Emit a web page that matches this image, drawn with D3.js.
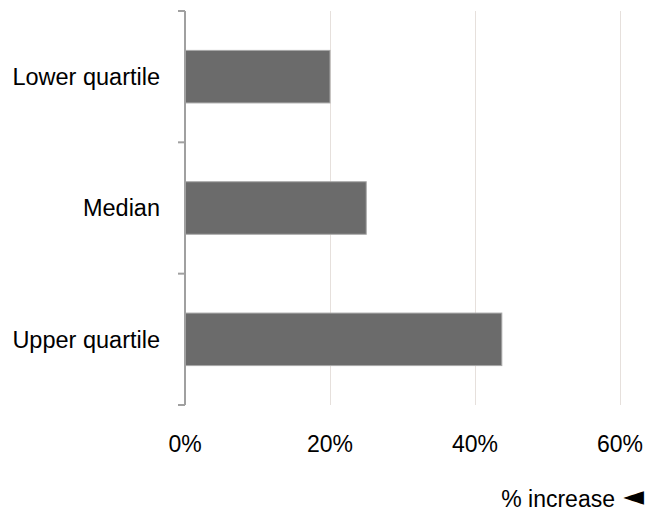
<!DOCTYPE html>
<html>
<head>
<meta charset="utf-8">
<script src="https://cdn.jsdelivr.net/npm/d3@7"></script>
<style>
  html, body { margin: 0; padding: 0; background: #fff; }
  svg { display: block; font-family: "Liberation Sans", Arial, sans-serif; }
</style>
</head>
<body>
<svg id="chart" width="649" height="513"></svg>
<script>
// Pay increase by quartile
const categories = ["Lower quartile", "Median", "Upper quartile"];
const values = [0.20, 0.25, 0.437];
const xTicks = [0, 0.2, 0.4, 0.6];
const axisTitle = "% increase";
const axisArrow = "\u25C4";

const svg = d3.select("#chart");

const x = d3.scaleLinear().domain([0, 0.6]).range([185, 620]);
const y = d3.scaleBand().domain(categories).range([11, 405])
  .paddingInner(0.6).paddingOuter(0.3);

// vertical gridlines
svg.append("g").selectAll("line")
  .data(xTicks.filter(d => d > 0))
  .join("line")
  .attr("x1", d => x(d) + 0.5).attr("x2", d => x(d) + 0.5)
  .attr("y1", 11).attr("y2", 405)
  .attr("stroke", "#e6e0dc").attr("stroke-width", 1);

// bars
svg.append("g").selectAll("rect")
  .data(categories.map((c, i) => ({ c, v: values[i] })))
  .join("rect")
  .attr("x", x(0))
  .attr("y", d => y(d.c))
  .attr("width", d => x(d.v) - x(0))
  .attr("height", y.bandwidth())
  .attr("fill", "#6b6b6b")
  .attr("stroke", "#a8a8a8")
  .attr("stroke-width", 1);

// category axis: line plus ticks at band boundaries
const step = y.step();
const boundaries = d3.range(categories.length + 1).map(i => 11 + i * step);
const axisG = svg.append("g");
axisG.append("line")
  .attr("x1", 185).attr("x2", 185)
  .attr("y1", 11).attr("y2", 405)
  .attr("stroke", "#a0a0a0").attr("stroke-width", 2);
axisG.selectAll("line.tick")
  .data(boundaries)
  .join("line")
  .attr("class", "tick")
  .attr("x1", 178).attr("x2", 185)
  .attr("y1", d => d).attr("y2", d => d)
  .attr("stroke", "#a0a0a0").attr("stroke-width", 2);

// category labels
svg.append("g").selectAll("text")
  .data(categories)
  .join("text")
  .attr("x", 160)
  .attr("y", d => y(d) + y.bandwidth() / 2)
  .attr("dy", "0.35em")
  .attr("text-anchor", "end")
  .attr("font-size", 23.5)
  .attr("fill", "#000")
  .text(d => d);

// value axis labels
svg.append("g").selectAll("text")
  .data(xTicks)
  .join("text")
  .attr("x", d => x(d))
  .attr("y", 452)
  .attr("text-anchor", "middle")
  .attr("font-size", 23)
  .attr("fill", "#000")
  .text(d => d3.format(".0%")(d));

// axis title with direction marker
svg.append("text")
  .attr("x", 615)
  .attr("y", 507)
  .attr("text-anchor", "end")
  .attr("font-size", 23)
  .attr("fill", "#000")
  .text(axisTitle);
svg.append("text")
  .attr("x", 644)
  .attr("y", 505)
  .attr("text-anchor", "end")
  .attr("font-family", "DejaVu Sans")
  .attr("font-size", 27)
  .attr("fill", "#000")
  .text(axisArrow);
</script>
</body>
</html>
